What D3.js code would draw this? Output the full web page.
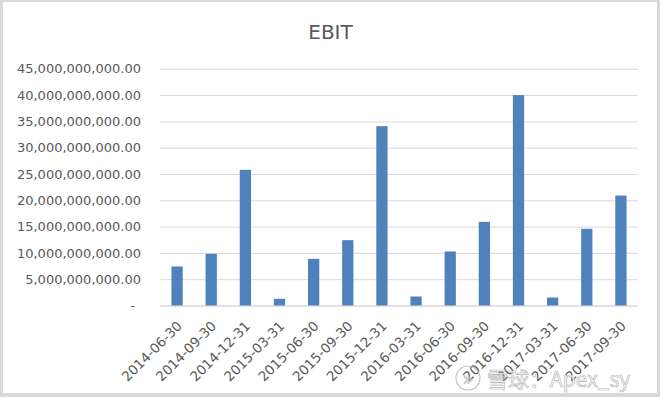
<!DOCTYPE html>
<html>
<head>
<meta charset="utf-8">
<script src="https://cdn.jsdelivr.net/npm/d3@7"></script>
<style>
  body { margin: 0; background: #fff; }
  text { font-family: "DejaVu Sans", sans-serif; }
</style>
</head>
<body>
<div id="chart"></div>
<script>
// quarter-end dates on the x axis
var periods = ["2014-06-30", "2014-09-30", "2014-12-31", "2015-03-31", "2015-06-30",
  "2015-09-30", "2015-12-31", "2016-03-31", "2016-06-30", "2016-09-30",
  "2016-12-31", "2017-03-31", "2017-06-30", "2017-09-30"];
// EBIT values
var ebit = [7.42e9, 9.83e9, 25.8e9, 1.27e9, 8.87e9,
  12.42e9, 34.1e9, 1.71e9, 10.27e9, 15.9e9,
  40.0e9, 1.52e9, 14.58e9, 20.9e9];
var yTicks = [0, 5e9, 10e9, 15e9, 20e9, 25e9, 30e9, 35e9, 40e9, 45e9];

var width = 660, height = 397;
var plotLeft = 160, plotRight = 638, plotTop = 68.8, plotBottom = 305.5;
var grey = "#595959";

var svg = d3.select('#chart')
  .append('svg')
  .attr('width', width)
  .attr('height', height);

// outer frame
svg.append('rect').attr('width', width).attr('height', height).attr('fill', '#d9d9d9');
svg.append('rect').attr('x', 3).attr('y', 2).attr('width', 654).attr('height', 391).attr('fill', '#fff');

var x = d3.scaleBand().domain(periods).range([plotLeft, plotRight]).paddingInner(0.67).paddingOuter(0.335);
var y = d3.scaleLinear().domain([0, 45e9]).range([plotBottom, plotTop]);

// title
svg.append('text')
  .attr('x', 330.5).attr('y', 39)
  .attr('text-anchor', 'middle')
  .style('font-size', '20px')
  .style('fill', grey)
  .text('EBIT');

// y axis with gridlines
var yAxis = svg.append('g')
  .attr('transform', 'translate(' + plotLeft + ',0)')
  .call(d3.axisLeft(y).tickValues(yTicks)
    .tickSizeInner(-(plotRight - plotLeft)).tickSizeOuter(0).tickPadding(19)
    .tickFormat(function (d) { return d === 0 ? '-' : d3.format(',.2f')(d); }));
yAxis.select('.domain').remove();
yAxis.selectAll('line').attr('stroke', '#d9d9d9');
yAxis.selectAll('text').style('font-size', '13px').style('fill', grey).attr('font-family', null);
yAxis.selectAll('.tick').filter(function (d) { return d === 0; }).select('text').attr('dx', -6);

// x axis
var xAxis = svg.append('g')
  .attr('transform', 'translate(0,' + plotBottom + ')')
  .call(d3.axisBottom(x).tickSize(0).tickSizeOuter(0));
xAxis.select('.domain').attr('stroke', '#d9d9d9');
xAxis.selectAll('text')
  .attr('y', 0).attr('dy', '0.35em')
  .attr('text-anchor', 'end')
  .attr('transform', 'translate(2.5,18) rotate(-45)')
  .attr('font-family', null)
  .style('font-size', '13.5px')
  .style('fill', grey);

// bars
svg.selectAll('rect.bar')
  .data(ebit)
  .enter().append('rect')
  .attr('class', 'bar')
  .attr('x', function (d, i) { return x(periods[i]); })
  .attr('width', x.bandwidth())
  .attr('y', function (d) { return y(d); })
  .attr('height', function (d) { return y(0) - y(d); })
  .attr('fill', '#4f81bd');

// watermark
var wm = svg.append('g').attr('opacity', 0.85);
wm.append('circle').attr('cx', 468).attr('cy', 378).attr('r', 12)
  .attr('fill', 'none').attr('stroke', '#bbb').attr('stroke-width', 1.2);
wm.append('text').attr('x', 468).attr('y', 385).attr('text-anchor', 'middle')
  .style('font-size', '17px').style('fill', '#fff').style('stroke', '#aaa').style('stroke-width', 0.7)
  .text('»');
wm.append('text').attr('x', 487).attr('y', 387)
  .style('font-family', '"Noto Sans CJK SC", "DejaVu Sans", sans-serif')
  .style('font-size', '21px').style('fill', '#fff').style('stroke', '#aaa').style('stroke-width', 0.7)
  .text('雪球：Apex_sy');
</script>
</body>
</html>
